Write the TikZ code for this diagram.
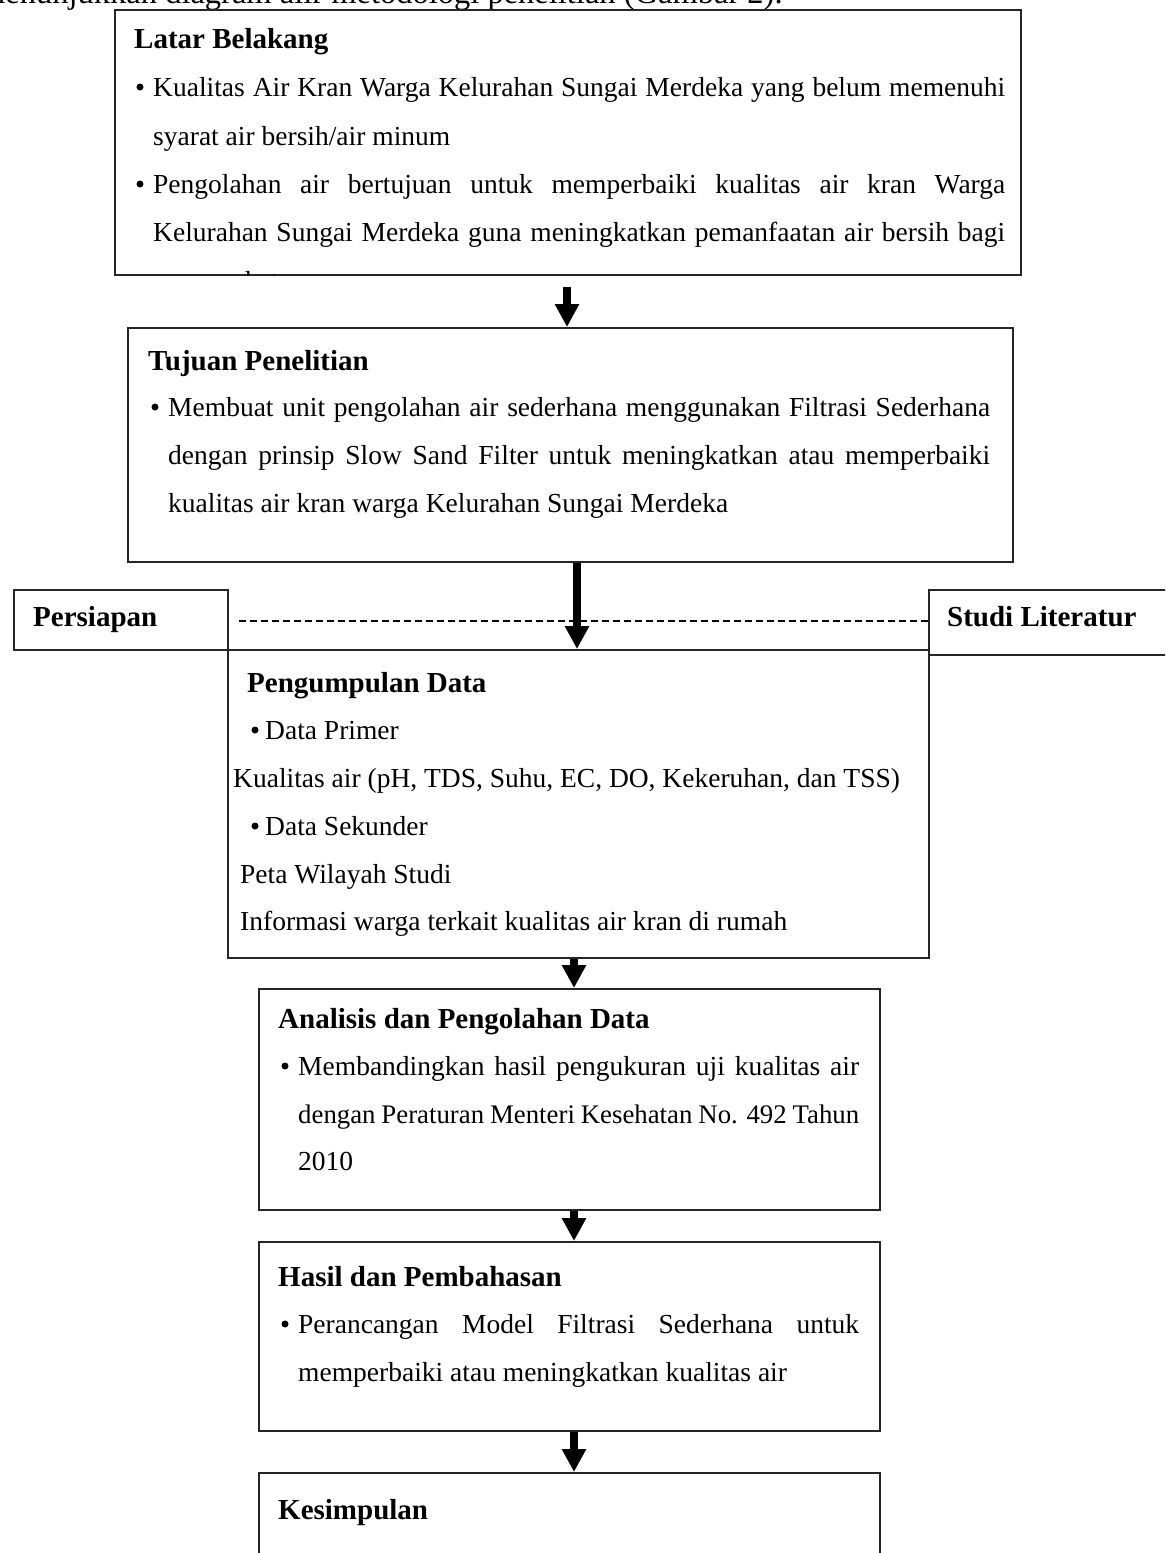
\documentclass[tikz,border=0pt]{standalone}
\usepackage{fontspec}
\setmainfont{Liberation Serif}
\usetikzlibrary{arrows.meta}
\newcommand\jline[2]{\makebox[#1pt][s]{#2}}
\begin{document}
\begin{tikzpicture}[x=1pt,y=-1pt,
  box/.style={draw=black!85, line width=1.5pt, inner sep=0pt, anchor=north west},
  tx/.style={anchor=base west, inner sep=0pt, font=\fontsize{27.5}{33}\selectfont},
  hd/.style={anchor=base west, inner sep=0pt, font=\fontsize{29}{35}\selectfont\bfseries},
  dot/.style={circle, fill=black, inner sep=0pt, minimum size=7pt},
  bigarrow/.style={line width=8pt, -{Triangle[width=23pt,length=23pt]}},
  dashline/.style={line width=2pt, dash pattern=on 7pt off 4pt}]
\clip (0,0) rectangle (1165,1553);
% top text (cut off)
\node[anchor=base west, inner sep=0pt, font=\fontsize{32.5}{38}\selectfont] (top) at (-20,3) {menunjukkan diagram alir metodologi penelitian (Gambar 2).};
% boxes
\node[box, minimum width=906pt, minimum height=265pt] (b1) at (114,9) {};
\node[box, minimum width=885pt, minimum height=234pt] (b2) at (127,327) {};
\node[box, minimum width=214pt, minimum height=60pt] (pers) at (13,589) {};
\node[box, minimum width=300pt, minimum height=65pt] (studi) at (928,589) {};
\node[box, minimum width=701pt, minimum height=308pt] (b3) at (227,649) {};
\node[box, minimum width=621pt, minimum height=221pt] (b4) at (258,988) {};
\node[box, minimum width=621pt, minimum height=189pt] (b5) at (258,1241) {};
\node[box, minimum width=621pt, minimum height=200pt] (b6) at (258,1472) {};
% box 1 text
\node[hd] (h1) at (134,48) {Latar Belakang};
\node[dot] (p11) at (140,87) {};
\node[tx] (t11) at (153,96) {\jline{852}{Kualitas Air Kran Warga Kelurahan Sungai Merdeka yang belum memenuhi}};
\node[tx] (t12) at (153,145) {syarat air bersih/air minum};
\node[dot] (p12) at (140,184) {};
\node[tx] (t13) at (153,193) {\jline{852}{Pengolahan air bertujuan untuk memperbaiki kualitas air kran Warga}};
\node[tx] (t14) at (153,241) {\jline{852}{Kelurahan Sungai Merdeka guna meningkatkan pemanfaatan air bersih bagi}};
\begin{scope}
\clip (b1.north west) rectangle (b1.south east);
\node[tx] (t15) at (153,290) {masyarakat};
\end{scope}
% box 2 text
\node[hd] (h2) at (148,370) {Tujuan Penelitian};
\node[dot] (p21) at (155,407) {};
\node[tx] (t21) at (168,416) {\jline{822}{Membuat unit pengolahan air sederhana menggunakan Filtrasi Sederhana}};
\node[tx] (t22) at (168,464) {\jline{822}{dengan prinsip Slow Sand Filter untuk meningkatkan atau memperbaiki}};
\node[tx] (t23) at (168,512) {kualitas air kran warga Kelurahan Sungai Merdeka};
% side boxes
\node[hd] (hp) at (33,626) {Persiapan};
\node[hd] (hs) at (947,626) {Studi Literatur};
% box 3 text
\node[hd] (h3) at (247,692) {Pengumpulan Data};
\node[dot] (p31) at (255,730) {};
\node[tx] (t31) at (265,739) {Data Primer};
\node[tx] (t32) at (233,787) {Kualitas air (pH, TDS, Suhu, EC, DO, Kekeruhan, dan TSS)};
\node[dot] (p32) at (255,826) {};
\node[tx] (t33) at (265,835) {Data Sekunder};
\node[tx] (t34) at (240,883) {Peta Wilayah Studi};
\node[tx] (t35) at (240,930) {Informasi warga terkait kualitas air kran di rumah};
% box 4 text
\node[hd] (h4) at (278,1028) {Analisis dan Pengolahan Data};
\node[dot] (p41) at (285,1066) {};
\node[tx] (t41) at (298,1075) {\jline{561}{Membandingkan hasil pengukuran uji kualitas air}};
\node[tx, font=\fontsize{26.8}{33}\selectfont] (t42) at (298,1123) {\jline{561}{dengan Peraturan Menteri Kesehatan No. 492 Tahun}};
\node[tx] (t43) at (298,1170) {2010};
% box 5 text
\node[hd] (h5) at (278,1286) {Hasil dan Pembahasan};
\node[dot] (p51) at (285,1324) {};
\node[tx] (t51) at (298,1333) {\jline{561}{Perancangan Model Filtrasi Sederhana untuk}};
\node[tx] (t52) at (298,1381) {memperbaiki atau meningkatkan kualitas air};
% box 6 text
\node[hd] (h6) at (278,1519) {Kesimpulan};
% connectors
\coordinate (xa1) at (567,0);
\coordinate (xa2) at (577,0);
\coordinate (xa3) at (574,0);
\draw[bigarrow] ([yshift=-11pt]b1.south -| xa1) -- (b2.north -| xa1);
\draw[bigarrow] (b2.south -| xa2) -- (b3.north -| xa2);
\draw[bigarrow] (b3.south -| xa3) -- (b4.north -| xa3);
\draw[bigarrow] (b4.south -| xa3) -- (b5.north -| xa3);
\draw[bigarrow] (b5.south -| xa3) -- (b6.north -| xa3);
\coordinate (dy) at (0,621);
\draw[dashline] ([xshift=10pt]pers.east |- dy) -- (studi.west |- dy);
\end{tikzpicture}
\end{document}
